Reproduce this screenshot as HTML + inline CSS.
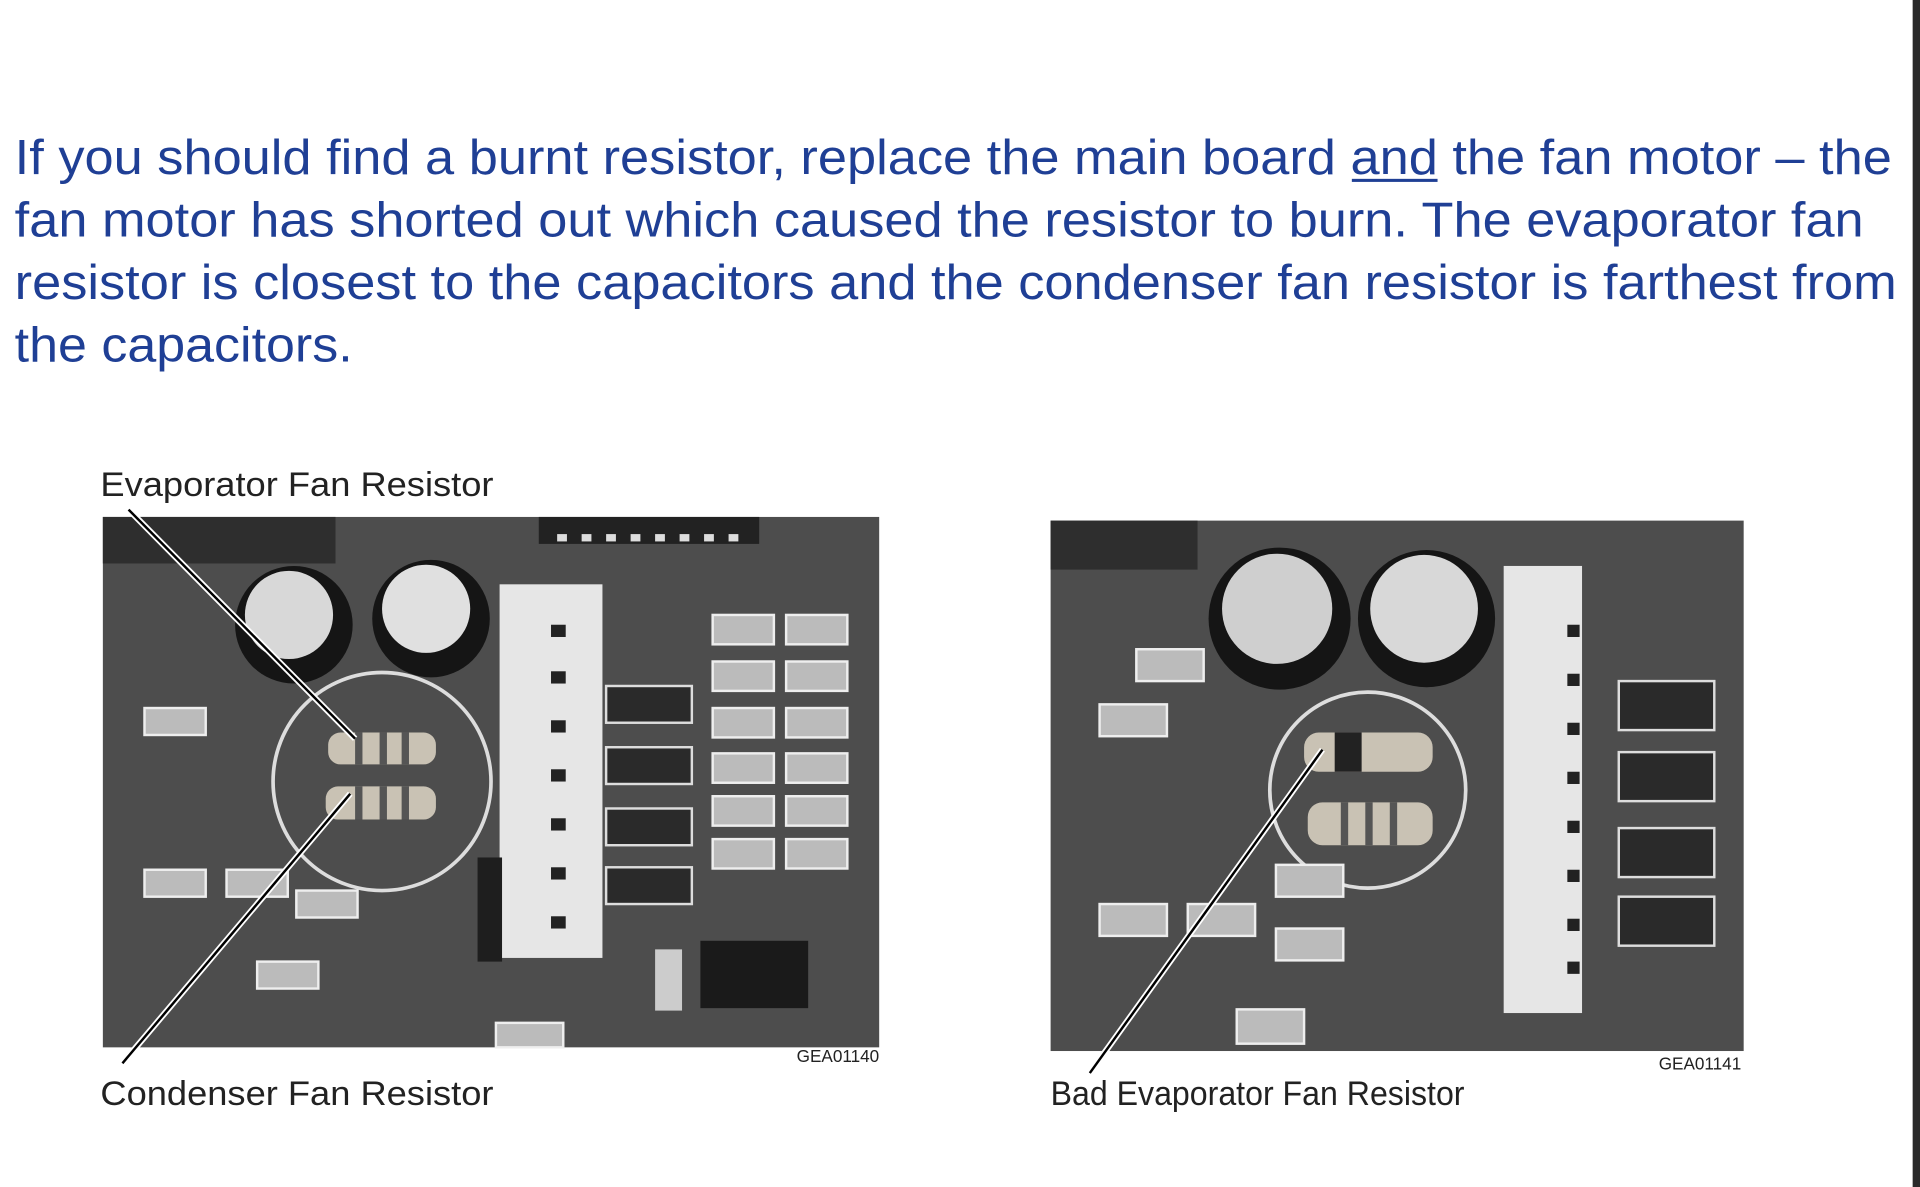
<!DOCTYPE html>
<html><head><meta charset="utf-8"><style>
html,body{margin:0;padding:0;background:#fff;width:1920px;height:1187px;overflow:hidden}
svg{display:block}
</style></head><body>
<svg width="1920" height="1187" viewBox="0 0 1568 969" preserveAspectRatio="none" xmlns="http://www.w3.org/2000/svg">
<rect width="1568" height="969" fill="#fff"/>
<rect x="1562" y="0" width="6" height="969" fill="#2a2a2a"/>
<g font-family="Liberation Sans, Arial, sans-serif" font-size="40" fill="#1f3f95">
<text x="12" y="142" textLength="1533" lengthAdjust="spacingAndGlyphs">If you should find a burnt resistor, replace the main board and the fan motor – the</text>
<text x="12" y="193" textLength="1510" lengthAdjust="spacingAndGlyphs">fan motor has shorted out which caused the resistor to burn. The evaporator fan</text>
<text x="12" y="244" textLength="1537" lengthAdjust="spacingAndGlyphs">resistor is closest to the capacitors and the condenser fan resistor is farthest from</text>
<text x="12" y="295" textLength="276" lengthAdjust="spacingAndGlyphs">the capacitors.</text>
</g>
<rect x="1104" y="146" width="70" height="2.5" fill="#1f3f95"/>

<!-- left photo -->
<g>
<rect x="84" y="422" width="634" height="433" fill="#4d4d4d"/>
<rect x="84" y="422" width="190" height="38" fill="#2e2e2e"/>
<rect x="440" y="422" width="180" height="22" fill="#222"/>
<g fill="#ddd"><rect x="455" y="436" width="8" height="6"/><rect x="475" y="436" width="8" height="6"/><rect x="495" y="436" width="8" height="6"/><rect x="515" y="436" width="8" height="6"/><rect x="535" y="436" width="8" height="6"/><rect x="555" y="436" width="8" height="6"/><rect x="575" y="436" width="8" height="6"/><rect x="595" y="436" width="8" height="6"/></g>
<circle cx="240" cy="510" r="48" fill="#151515"/><circle cx="236" cy="502" r="36" fill="#d8d8d8"/>
<circle cx="352" cy="505" r="48" fill="#151515"/><circle cx="348" cy="497" r="36" fill="#e0e0e0"/>
<rect x="408" y="477" width="84" height="305" fill="#e6e6e6"/>
<g fill="#222"><rect x="450" y="510" width="12" height="10"/><rect x="450" y="548" width="12" height="10"/><rect x="450" y="588" width="12" height="10"/><rect x="450" y="628" width="12" height="10"/><rect x="450" y="668" width="12" height="10"/><rect x="450" y="708" width="12" height="10"/><rect x="450" y="748" width="12" height="10"/></g>
<rect x="390" y="700" width="20" height="85" fill="#1e1e1e"/>
<rect x="268" y="598" width="88" height="26" rx="10" fill="#c9c2b4"/>
<rect x="266" y="642" width="90" height="27" rx="10" fill="#c9c2b4"/>
<g fill="#555"><rect x="290" y="598" width="6" height="26"/><rect x="310" y="598" width="6" height="26"/><rect x="328" y="598" width="6" height="26"/><rect x="290" y="642" width="6" height="27"/><rect x="310" y="642" width="6" height="27"/><rect x="328" y="642" width="6" height="27"/></g>
<circle cx="312" cy="638" r="89" fill="none" stroke="#ddd" stroke-width="3"/>
<g fill="#2a2a2a" stroke="#ddd" stroke-width="2">
<rect x="495" y="560" width="70" height="30"/><rect x="495" y="610" width="70" height="30"/><rect x="495" y="660" width="70" height="30"/><rect x="495" y="708" width="70" height="30"/>
</g>
<g fill="#bbb" stroke="#eee" stroke-width="2">
<rect x="582" y="502" width="50" height="24"/><rect x="642" y="502" width="50" height="24"/>
<rect x="582" y="540" width="50" height="24"/><rect x="642" y="540" width="50" height="24"/>
<rect x="582" y="578" width="50" height="24"/><rect x="642" y="578" width="50" height="24"/>
<rect x="582" y="615" width="50" height="24"/><rect x="642" y="615" width="50" height="24"/>
<rect x="582" y="650" width="50" height="24"/><rect x="642" y="650" width="50" height="24"/>
<rect x="582" y="685" width="50" height="24"/><rect x="642" y="685" width="50" height="24"/>
<rect x="118" y="578" width="50" height="22"/><rect x="118" y="710" width="50" height="22"/><rect x="185" y="710" width="50" height="22"/><rect x="242" y="727" width="50" height="22"/><rect x="210" y="785" width="50" height="22"/><rect x="405" y="835" width="55" height="20"/>
</g>
<rect x="572" y="768" width="88" height="55" fill="#1a1a1a"/>
<rect x="535" y="775" width="22" height="50" fill="#ccc"/>
<line x1="105" y1="416" x2="290" y2="603" stroke="#fff" stroke-width="5"/>
<line x1="105" y1="416" x2="290" y2="603" stroke="#000" stroke-width="2"/>
<line x1="100" y1="868" x2="286" y2="648" stroke="#fff" stroke-width="5"/>
<line x1="100" y1="868" x2="286" y2="648" stroke="#000" stroke-width="2"/>
</g>

<!-- right photo -->
<g>
<rect x="858" y="425" width="566" height="433" fill="#4d4d4d"/>
<rect x="858" y="425" width="120" height="40" fill="#2e2e2e"/>
<circle cx="1045" cy="505" r="58" fill="#151515"/><circle cx="1043" cy="497" r="45" fill="#cfcfcf"/>
<circle cx="1165" cy="505" r="56" fill="#151515"/><circle cx="1163" cy="497" r="44" fill="#d8d8d8"/>
<rect x="1228" y="462" width="64" height="365" fill="#e6e6e6"/>
<g fill="#222"><rect x="1280" y="510" width="10" height="10"/><rect x="1280" y="550" width="10" height="10"/><rect x="1280" y="590" width="10" height="10"/><rect x="1280" y="630" width="10" height="10"/><rect x="1280" y="670" width="10" height="10"/><rect x="1280" y="710" width="10" height="10"/><rect x="1280" y="750" width="10" height="10"/><rect x="1280" y="785" width="10" height="10"/></g>
<rect x="1065" y="598" width="105" height="32" rx="12" fill="#c9c2b4"/>
<rect x="1068" y="655" width="102" height="35" rx="12" fill="#c9c2b4"/>
<rect x="1090" y="598" width="22" height="32" fill="#222"/>
<g fill="#555"><rect x="1095" y="655" width="6" height="35"/><rect x="1115" y="655" width="6" height="35"/><rect x="1135" y="655" width="6" height="35"/></g>
<circle cx="1117" cy="645" r="80" fill="none" stroke="#ddd" stroke-width="3"/>
<g fill="#2a2a2a" stroke="#ddd" stroke-width="2">
<rect x="1322" y="556" width="78" height="40"/><rect x="1322" y="614" width="78" height="40"/><rect x="1322" y="676" width="78" height="40"/><rect x="1322" y="732" width="78" height="40"/>
</g>
<g fill="#bbb" stroke="#eee" stroke-width="2">
<rect x="898" y="575" width="55" height="26"/><rect x="928" y="530" width="55" height="26"/><rect x="898" y="738" width="55" height="26"/><rect x="970" y="738" width="55" height="26"/><rect x="1042" y="706" width="55" height="26"/><rect x="1042" y="758" width="55" height="26"/><rect x="1010" y="824" width="55" height="28"/>
</g>
<line x1="890" y1="876" x2="1080" y2="612" stroke="#fff" stroke-width="5"/>
<line x1="890" y1="876" x2="1080" y2="612" stroke="#000" stroke-width="2"/>
</g>

<g font-family="Liberation Sans, Arial, sans-serif" fill="#222">
<text x="82" y="405" font-size="28" textLength="321" lengthAdjust="spacingAndGlyphs">Evaporator Fan Resistor</text>
<text x="82" y="902" font-size="28" textLength="321" lengthAdjust="spacingAndGlyphs">Condenser Fan Resistor</text>
<text x="858" y="902" font-size="28" textLength="338" lengthAdjust="spacingAndGlyphs">Bad Evaporator Fan Resistor</text>
<text x="718" y="867" font-size="14" text-anchor="end">GEA01140</text>
<text x="1422" y="873" font-size="14" text-anchor="end">GEA01141</text>
</g>
</svg>
</body></html>
